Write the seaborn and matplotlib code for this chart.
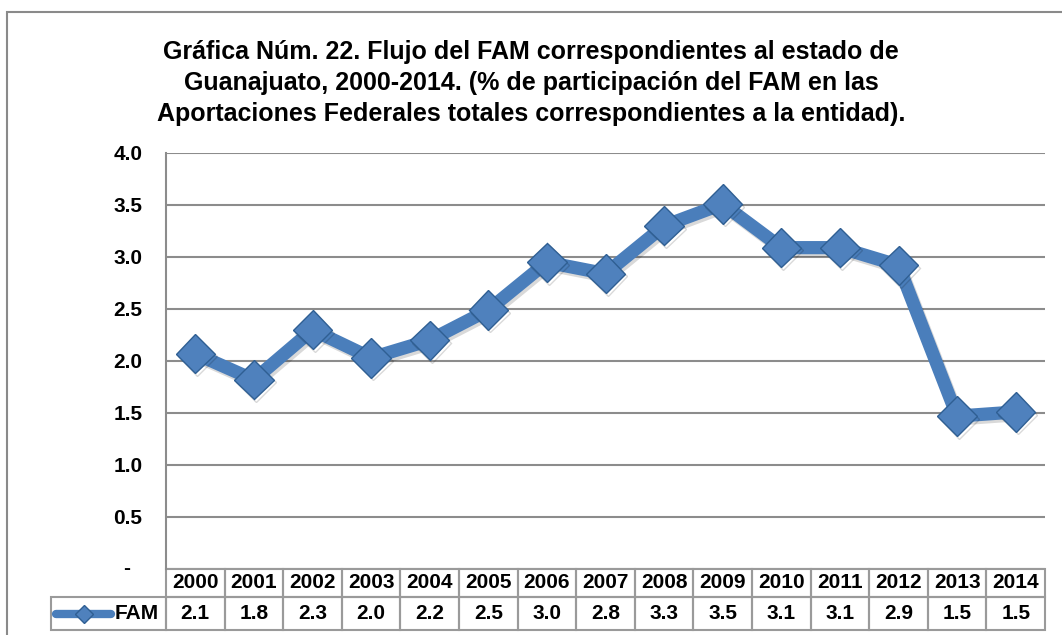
import numpy as np
import pandas as pd
import seaborn as sns
import matplotlib.pyplot as plt
import matplotlib.transforms as mtransforms
from matplotlib.patches import Rectangle
from matplotlib.lines import Line2D
import matplotlib.patheffects as pe

# ---- data -------------------------------------------------------------
years = ["2000", "2001", "2002", "2003", "2004", "2005", "2006", "2007",
         "2008", "2009", "2010", "2011", "2012", "2013", "2014"]
fam = [2.07, 1.82, 2.30, 2.03, 2.20, 2.49, 2.95, 2.84,
       3.30, 3.51, 3.09, 3.09, 2.92, 1.47, 1.51]
series_name = "FAM"
y_ticks = [0.0, 0.5, 1.0, 1.5, 2.0, 2.5, 3.0, 3.5, 4.0]
y_tick_labels = ["", "0.5", "1.0", "1.5", "2.0", "2.5", "3.0", "3.5", "4.0"]
zero_label = "-"
title = ("Gráfica Núm. 22. Flujo del FAM correspondientes al estado de\n"
         "Guanajuato, 2000-2014. (% de participación del FAM en las\n"
         "Aportaciones Federales totales correspondientes a la entidad).")

# ---- style ------------------------------------------------------------
sns.set_theme(style="white")
plt.rcParams["font.family"] = ["Liberation Sans", "DejaVu Sans"]
plt.rcParams["text.color"] = "black"

LINE = "#4A7EBB"
FACE = "#4F81BD"
EDGE = "#2F5F93"
GRID = "#8C8C8C"
CELL = "#9A9A9A"
FS = 15

W, H = 1062, 635
fig = plt.figure(figsize=(W / 100, H / 100), dpi=100)
fig.patch.set_facecolor("white")

# outer chart frame
fig.add_artist(Rectangle((7 / W, -0.05), 1.2, 1 - 12 / H + 0.05,
                         transform=fig.transFigure, fill=False,
                         edgecolor="#8A8A8A", linewidth=1.5))

left, right, top, bottom = 166, 1045, 153, 569
ax = fig.add_axes([left / W, 1 - bottom / H, (right - left) / W, (bottom - top) / H])

df = pd.DataFrame({"pos": np.arange(len(years)), "value": fam})
sns.lineplot(data=df, x="pos", y="value", ax=ax, color=LINE, linewidth=9.5,
             marker="D", markersize=20, markerfacecolor=FACE,
             markeredgecolor=EDGE, markeredgewidth=1.0,
             path_effects=[pe.SimpleLineShadow(offset=(1.5, -2), alpha=0.15,
                                               shadow_color="black"),
                           pe.Normal()])

ax.set_xlim(-0.5, len(years) - 0.5)
ax.set_ylim(0, 4)
ax.set_xticks([])
ax.set_xlabel("")
ax.set_ylabel("")
ax.set_yticks(y_ticks)
ax.set_yticklabels(y_tick_labels, fontsize=FS, fontweight="bold", color="black")
ax.tick_params(axis="y", length=0, pad=17)
ax.yaxis.grid(True, color=GRID, linewidth=1.5)
ax.set_axisbelow(True)
for s in ["top", "right", "bottom"]:
    ax.spines[s].set_visible(False)
ax.spines["left"].set_color(GRID)
ax.spines["left"].set_linewidth(1.5)

ax.annotate(zero_label, xy=(0, 0), xycoords="axes fraction",
            xytext=(-39, 0), textcoords="offset pixels",
            ha="center", va="center", fontsize=FS, fontweight="bold")

# ---- data table under the plot ----------------------------------------
ph = bottom - top
hdr_h = 28 / ph
row_h = 33 / ph
blend = mtransforms.blended_transform_factory(ax.transData, ax.transAxes)

for i, (yr, v) in enumerate(zip(years, fam)):
    ax.add_patch(Rectangle((i - 0.5, -hdr_h), 1, hdr_h, transform=blend,
                           fill=False, edgecolor=CELL, linewidth=1.5, clip_on=False))
    ax.add_patch(Rectangle((i - 0.5, -hdr_h - row_h), 1, row_h, transform=blend,
                           fill=False, edgecolor=CELL, linewidth=1.5, clip_on=False))
    ax.text(i, -hdr_h / 2, yr, transform=blend, ha="center", va="center",
            fontsize=FS, fontweight="bold", clip_on=False)
    ax.text(i, -hdr_h - row_h / 2, f"{v:.1f}", transform=blend, ha="center",
            va="center", fontsize=FS, fontweight="bold", clip_on=False)

# legend cell
lx0 = (51 - left) / (right - left)
ax.add_patch(Rectangle((lx0, -hdr_h - row_h), -lx0, row_h, transform=ax.transAxes,
                       fill=False, edgecolor=CELL, linewidth=1.5, clip_on=False))
yc = -hdr_h - row_h / 2
x_a = (56 - left) / (right - left)
x_b = (111 - left) / (right - left)
ax.add_line(Line2D([x_a, x_b], [yc, yc], transform=ax.transAxes, color=LINE,
                   linewidth=6, solid_capstyle="round", clip_on=False))
ax.add_line(Line2D([(x_a + x_b) / 2], [yc], transform=ax.transAxes, marker="D",
                   markersize=9, markerfacecolor=FACE, markeredgecolor=EDGE,
                   linestyle="none", clip_on=False))
ax.text((159 - left) / (right - left), yc, series_name, transform=ax.transAxes,
        ha="right", va="center", fontsize=FS, fontweight="bold", clip_on=False)

# ---- title ------------------------------------------------------------
fig.text(0.5, 1 - 83 / H, title, ha="center", va="center", fontsize=18,
         fontweight="bold", linespacing=1.38, color="black")

fig.savefig("out.png", dpi=100)
